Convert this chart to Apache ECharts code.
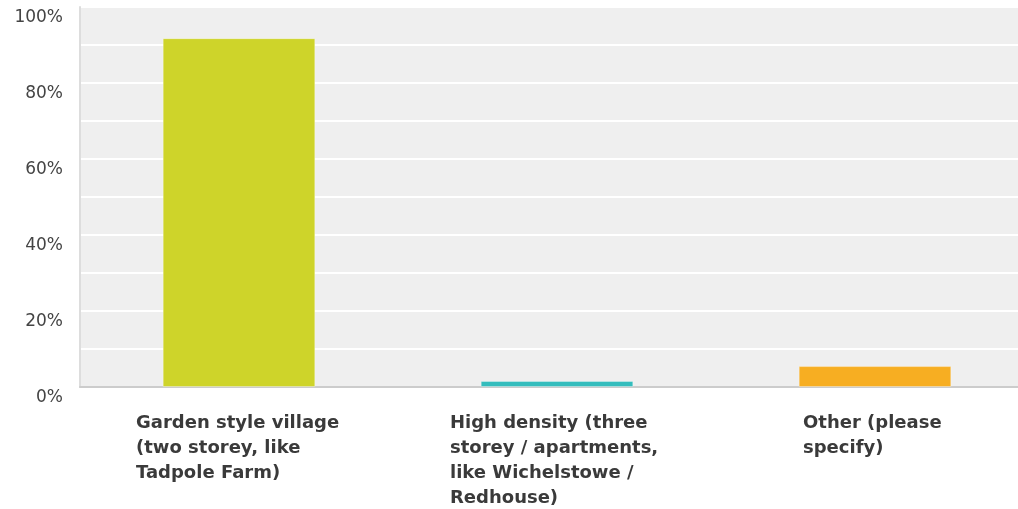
<!DOCTYPE html>
<html>
<head>
<meta charset="utf-8">
<script src="https://cdn.jsdelivr.net/npm/echarts@6/dist/echarts.min.js"></script>
<style>html,body{margin:0;padding:0;background:#fff}#c{width:1018px;height:509px}</style>
</head>
<body>
<div id="c"></div>
<script>
const categories = [
  "Garden style village\n(two storey, like\nTadpole Farm)",
  "High density (three\nstorey / apartments,\nlike Wichelstowe /\nRedhouse)",
  "Other (please\nspecify)"
];
const values = [91.8, 1.6, 5.5];
const barColors = ["#ced42a", "#34bdbd", "#f7ae22"];
const yTickLabels = ["0%", "20%", "40%", "60%", "80%", "100%"];

const chart = echarts.init(document.getElementById('c'), null, {renderer: 'canvas'});
const rich = {};
const blockWidths = [206, 214, 144];
blockWidths.forEach((w, i) => { rich['c' + i] = {width: w, align: 'left', fontFamily: 'DejaVu Sans', fontWeight: 'bold', fontSize: 18, lineHeight: 25, color: '#3a3a3a'}; });

chart.setOption({
  animation: false,
  grid: {left: 80, top: 7, height: 380, width: 954, outerBoundsMode: 'none', containLabel: false, show: true, backgroundColor: '#efefef', borderWidth: 0},
  xAxis: {
    type: 'category',
    data: categories,
    axisTick: {show: false},
    axisLine: {show: true, lineStyle: {color: '#cccccc', width: 2}},
    axisLabel: {
      interval: 0,
      margin: 24,
      align: 'center',
      formatter: (v, idx) => v.split('\n').map(l => '{c' + idx + '|' + l + '}').join('\n'),
      rich: rich
    }
  },
  yAxis: {
    type: 'value',
    min: 0, max: 100, interval: 10,
    axisLine: {show: true, lineStyle: {color: '#dddddd', width: 2}},
    axisTick: {show: false},
    splitLine: {show: true, lineStyle: {color: '#ffffff', width: 2}},
    axisLabel: {
      margin: 17,
      verticalAlign: 'top',
      padding: [2, 0, 0, 0],
      fontFamily: 'DejaVu Sans',
      fontSize: 17,
      color: '#444444',
      formatter: v => (v % 20 === 0 ? yTickLabels[v / 20] : '')
    }
  },
  series: [{
    type: 'bar',
    data: values.map((v, i) => ({value: v, itemStyle: {color: barColors[i], borderColor: 'rgba(255,255,255,0.35)', borderWidth: 1}})),
    barWidth: '48%'
  }]
});
</script>
</body>
</html>
